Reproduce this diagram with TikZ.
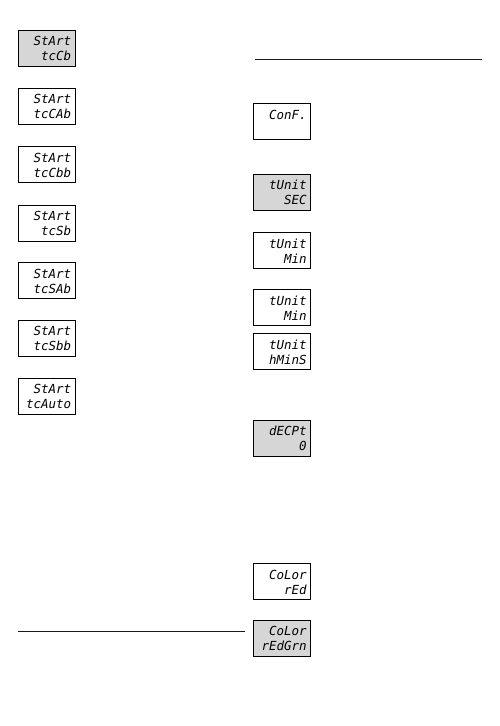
\documentclass[tikz,border=0pt]{standalone}
\usepackage{fontspec}
\newfontfamily\segfont{DejaVu Sans Mono}
\tikzset{
  disp/.style={draw=black, line width=0.9pt, minimum width=57pt, minimum height=36pt, inner sep=0pt, anchor=north west, fill=white},
  dispgray/.style={disp, fill=black!16},
  seg/.style={inner sep=0pt, anchor=base east, font=\segfont\itshape\fontsize{12.5}{13}\selectfont, text=black},
  rule/.style={line width=1pt, black!90}
}
\newcommand{\dispbox}[6]{%
  \node[#4] (#1) at (#2,#3) {};
  \node[seg] (#1t) at ([xshift=-4pt,yshift=-16pt]#1.north east) {#5};
  \node[seg] (#1b) at ([xshift=-4pt,yshift=-31pt]#1.north east) {#6};
}
\begin{document}
\begin{tikzpicture}[x=1pt,y=1pt]
\useasboundingbox (0,0) rectangle (499,726);
% left column
\dispbox{l1}{17.5}{696}{dispgray}{StArt}{tcCb}
\dispbox{l2}{17.5}{638}{disp}{StArt}{tcCAb}
\dispbox{l3}{17.5}{579.5}{disp}{StArt}{tcCbb}
\dispbox{l4}{17.5}{521}{disp}{StArt}{tcSb}
\dispbox{l5}{17.5}{463.5}{disp}{StArt}{tcSAb}
\dispbox{l6}{17.5}{406}{disp}{StArt}{tcSbb}
\dispbox{l7}{17.5}{348}{disp}{StArt}{tcAuto}
% right column
\dispbox{r1}{253}{622.5}{disp}{ConF.}{}
\dispbox{r2}{253}{552}{dispgray}{tUnit}{SEC}
\dispbox{r3}{253}{493.5}{disp}{tUnit}{Min}
\dispbox{r4}{253}{436.5}{disp}{tUnit}{Min}
\dispbox{r5}{253}{392.5}{disp}{tUnit}{hMinS}
\dispbox{r6}{253}{306}{dispgray}{dECPt}{0}
\dispbox{r7}{253}{162.5}{disp}{CoLor}{rEd}
\dispbox{r8}{253}{106}{dispgray}{CoLor}{rEdGrn}
% rules
\coordinate (ra) at (255,666.5);
\coordinate (rb) at (482,666.5);
\coordinate (la) at (18,94);
\coordinate (lb) at (245,94);
\draw[rule] (ra) -- (rb);
\draw[rule] (la) -- (lb);
\end{tikzpicture}
\end{document}
